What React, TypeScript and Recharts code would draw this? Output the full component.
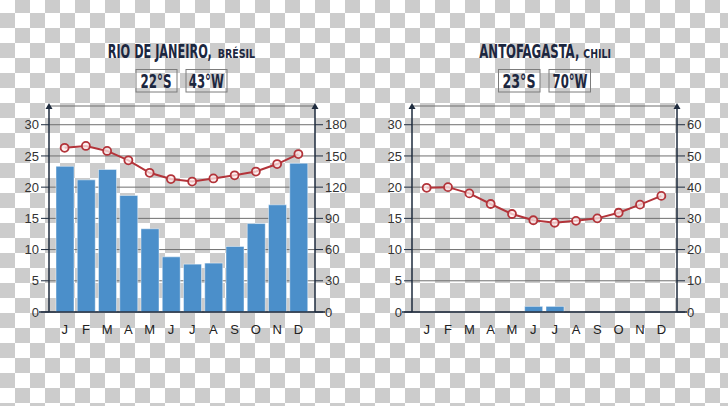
import { useLayoutEffect, useRef, useState } from 'react';
import type { ReactNode } from 'react';
import { ComposedChart, Bar, Line, XAxis, YAxis, CartesianGrid } from 'recharts';

// month initials on the x axis
const MONTHS = ['J', 'F', 'M', 'A', 'M', 'J', 'J', 'A', 'S', 'O', 'N', 'D'];

// Rio de Janeiro: mean temperature (°C) and precipitation (mm)
const RIO_TEMP = [26.3, 26.6, 25.8, 24.3, 22.3, 21.3, 20.9, 21.4, 21.9, 22.5, 23.7, 25.3];
const RIO_RAIN = [140, 127, 137, 112, 80, 53, 46, 47, 63, 85, 103, 143];

// Antofagasta
const ANTO_TEMP = [19.9, 20.0, 19.0, 17.3, 15.7, 14.7, 14.3, 14.6, 15.0, 15.9, 17.2, 18.6];
const ANTO_RAIN = [0, 0, 0, 0, 0, 1.8, 1.8, 0, 0, 0, 0, 0];

// axis ticks
const TEMP_TICKS = [0, 5, 10, 15, 20, 25, 30];
const RIO_RAIN_TICKS = [0, 30, 60, 90, 120, 150, 180];
const ANTO_RAIN_TICKS = [0, 10, 20, 30, 40, 50, 60];

const NAVY = '#1e2b3e';
const BLUE = '#4b8fca';
const RED = '#b3343a';

function buildRows(temp: number[], rain: number[]) {
  return MONTHS.map((m, i) => ({ i, temp: temp[i], rain: rain[i] }));
}

interface ClimateProps {
  temp: number[];
  rain: number[];
  rainTicks: number[];
  leftWidth: number;
  rightWidth: number;
  padLeft: number;
  padRight: number;
}

function ClimateChart({ temp, rain, rainTicks, leftWidth, rightWidth, padLeft, padRight }: ClimateProps) {
  const data = buildRows(temp, rain);
  const rainMax = rainTicks[rainTicks.length - 1] * 1.1;

  return (
    <ComposedChart
      width={364}
      height={406}
      data={data}
      margin={{ top: 106, right: 0, bottom: 64, left: 0 }}
      style={{ fontFamily: '"Liberation Sans", Arial, sans-serif' }}
    >
      <CartesianGrid yAxisId="t" horizontal vertical={false} stroke="#6f6f6f" strokeWidth={1} />
      <XAxis
        dataKey="i"
        type="category"
        tickFormatter={(v: number) => MONTHS[v]}
        interval={0}
        height={30}
        tickLine={false}
        tickMargin={7}
        padding={{ left: padLeft, right: padRight }}
        tick={{ fill: '#222', fontSize: 13 }}
        axisLine={{ stroke: NAVY, strokeWidth: 1.5, markerStart: 'url(#ext)', markerEnd: 'url(#ext)' }}
      />
      <YAxis
        yAxisId="t"
        orientation="left"
        width={leftWidth}
        domain={[0, 33]}
        ticks={TEMP_TICKS}
        interval={0}
        tickSize={8}
        tick={{ fill: '#333', fontSize: 13 }}
        tickLine={{ stroke: NAVY }}
        axisLine={{ stroke: NAVY, strokeWidth: 1.5, markerStart: 'url(#arr)' }}
      />
      <YAxis
        yAxisId="p"
        orientation="right"
        width={rightWidth}
        domain={[0, rainMax]}
        ticks={rainTicks}
        interval={0}
        tickSize={8}
        tick={{ fill: '#333', fontSize: 13 }}
        tickLine={{ stroke: NAVY }}
        axisLine={{ stroke: NAVY, strokeWidth: 1.5, markerStart: 'url(#arr)' }}
      />
      <Bar
        yAxisId="p"
        dataKey="rain"
        fill={BLUE}
        stroke="rgba(255,255,255,0.45)"
        strokeWidth={1}
        barSize={18}
        isAnimationActive={false}
      />
      <Line
        yAxisId="t"
        dataKey="temp"
        stroke={RED}
        strokeWidth={2}
        dot={{ r: 4, stroke: RED, strokeWidth: 1.8, fill: 'rgba(255,236,236,0.75)' }}
        activeDot={false}
        isAnimationActive={false}
      />
    </ComposedChart>
  );
}

const TITLE_FONT = {
  fontFamily: '"DejaVu Sans Condensed", "DejaVu Sans", sans-serif',
  fontWeight: 700,
  fill: '#1c2740',
};

// condensed heading text: squeezed horizontally to a given width
function FitText({ x, y, width, size, children }: { x: number; y: number; width: number; size: number; children: ReactNode }) {
  const ref = useRef<SVGTextElement>(null);
  const [sx, setSx] = useState(0.7);
  useLayoutEffect(() => {
    const w = ref.current ? ref.current.getComputedTextLength() : 0;
    if (w > 0) setSx(width / w);
  }, [width]);
  return (
    <text ref={ref} transform={`translate(${x} ${y}) scale(${sx} 1)`} fontSize={size} style={TITLE_FONT}>
      {children}
    </text>
  );
}

function Headings() {
  return (
    <svg width={728} height={406} style={{ position: 'absolute', left: 0, top: 0, pointerEvents: 'none' }}>
      <defs>
        <marker id="arr" markerUnits="userSpaceOnUse" viewBox="-5 -5 10 10" markerWidth={10} markerHeight={10}
          refX={0} refY={0} orient="auto-start-reverse" overflow="visible">
          <path d="M-3,-3.5 L3,0 L-3,3.5 Z" fill={NAVY} />
        </marker>
        <marker id="ext" markerUnits="userSpaceOnUse" viewBox="0 -2 12 4" markerWidth={12} markerHeight={4}
          refX={0} refY={0} orient="auto-start-reverse" overflow="visible">
          <path d="M0,0 L10,0" stroke={NAVY} strokeWidth={1.5} />
        </marker>
      </defs>

      {/* Rio de Janeiro */}
      <FitText x={107.7} y={57.5} size={19} width={104}>RIO DE JANEIRO,</FitText>
      <FitText x={217.7} y={57.5} size={13} width={37.3}>BRÉSIL</FitText>
      <rect x={136} y={69.5} width={41} height={22.5} fill="none" stroke="#7c7c7c" strokeWidth={1} />
      <rect x={186} y={69.5} width={41} height={22.5} fill="none" stroke="#7c7c7c" strokeWidth={1} />
      <FitText x={140.5} y={88.3} size={19} width={31}>22°S</FitText>
      <FitText x={188.8} y={88.3} size={19} width={35}>43°W</FitText>

      {/* Antofagasta */}
      <FitText x={479.3} y={57.5} size={19} width={100}>ANTOFAGASTA,</FitText>
      <FitText x={583.3} y={57.5} size={13} width={27.7}>CHILI</FitText>
      <rect x={498.5} y={69.5} width={41.5} height={22.5} fill="none" stroke="#7c7c7c" strokeWidth={1} />
      <rect x={549} y={69.5} width={41.5} height={22.5} fill="none" stroke="#7c7c7c" strokeWidth={1} />
      <FitText x={502.5} y={88.3} size={19} width={33}>23°S</FitText>
      <FitText x={552.5} y={88.3} size={19} width={35}>70°W</FitText>
    </svg>
  );
}

export default function App() {
  return (
    <div
      style={{
        position: 'absolute',
        left: 0,
        top: 0,
        width: 728,
        height: 406,
        overflow: 'hidden',
        background: 'repeating-conic-gradient(#cccccc 0% 25%, #ffffff 0% 50%) 0 -2px / 30px 30px',
      }}
    >
      <div style={{ position: 'absolute', left: 0, top: 0 }}>
        <ClimateChart temp={RIO_TEMP} rain={RIO_RAIN} rainTicks={RIO_RAIN_TICKS}
          leftWidth={49} rightWidth={49} padLeft={5} padRight={6} />
      </div>
      <div style={{ position: 'absolute', left: 364, top: 0 }}>
        <ClimateChart temp={ANTO_TEMP} rain={ANTO_RAIN} rainTicks={ANTO_RAIN_TICKS}
          leftWidth={48} rightWidth={51} padLeft={4} padRight={5} />
      </div>
      <Headings />
    </div>
  );
}
